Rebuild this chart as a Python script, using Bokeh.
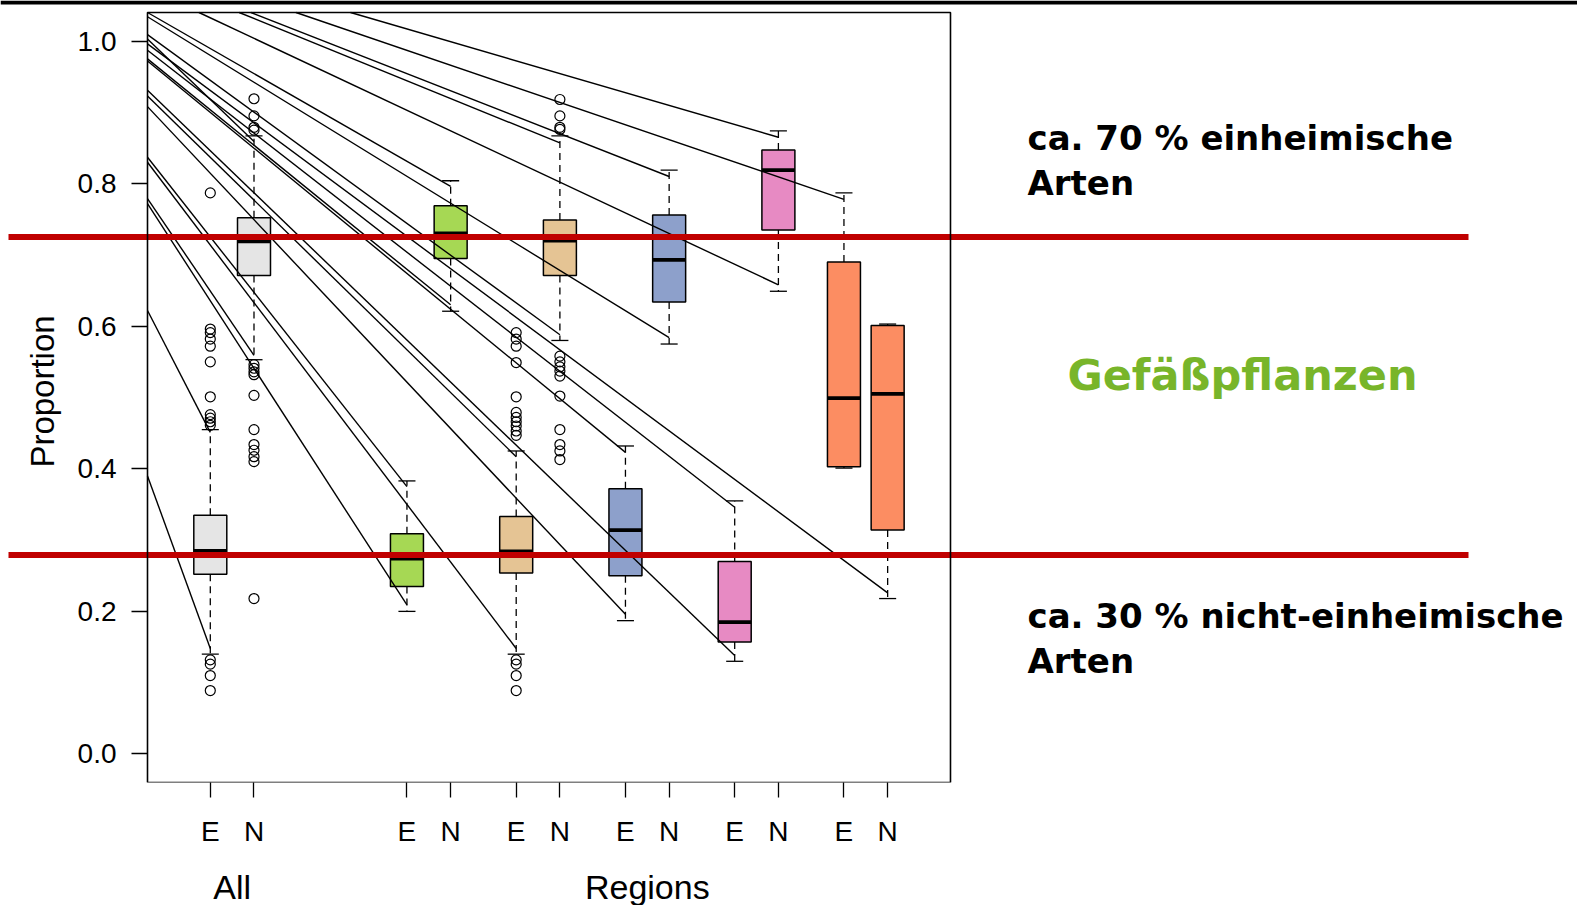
from bokeh.plotting import figure
from bokeh.models import Range1d, FixedTicker, LinearAxis, BoxAnnotation, Label, PrintfTickFormatter
from bokeh.embed import file_html
from bokeh.resources import INLINE
import numpy as np

# ---------------- data ----------------
box_labels = ["E", "N", "E", "N", "E", "N", "E", "N", "E", "N", "E", "N"]
positions = [1, 2, 5.5, 6.5, 8, 9, 10.5, 11.5, 13, 14, 15.5, 16.5]
group_labels = ["All", "Regions"]
group_pos = [1.5, 11]
box_colors = ["#E5E5E5", "#E5E5E5", "#A6D854", "#A6D854", "#E5C494", "#E5C494",
              "#8DA0CB", "#8DA0CB", "#E78AC3", "#E78AC3", "#FC8D62", "#FC8D62"]

whisk_lo = [0.140, 0.553, 0.200, 0.621, 0.140, 0.580, 0.187, 0.575, 0.130, 0.649, 0.401, 0.218]
q1 = [0.252, 0.671, 0.235, 0.695, 0.254, 0.671, 0.250, 0.634, 0.157, 0.735, 0.403, 0.314]
med = [0.285, 0.719, 0.274, 0.730, 0.284, 0.720, 0.314, 0.693, 0.185, 0.819, 0.499, 0.505]
q3 = [0.335, 0.752, 0.309, 0.769, 0.333, 0.749, 0.372, 0.756, 0.270, 0.847, 0.690, 0.601]
whisk_hi = [0.455, 0.867, 0.383, 0.804, 0.425, 0.867, 0.432, 0.819, 0.355, 0.874, 0.787, 0.603]

outliers = [
    [0.787, 0.596, 0.591, 0.582, 0.572, 0.550, 0.501, 0.476, 0.471, 0.466, 0.461, 0.132, 0.126, 0.110, 0.089],
    [0.919, 0.895, 0.879, 0.875, 0.546, 0.541, 0.536, 0.532, 0.503, 0.455, 0.434, 0.426, 0.417, 0.410, 0.218],
    [], [],
    [0.591, 0.582, 0.572, 0.549, 0.501, 0.479, 0.472, 0.466, 0.460, 0.453, 0.447, 0.132, 0.126, 0.110, 0.089],
    [0.918, 0.895, 0.879, 0.876, 0.558, 0.550, 0.543, 0.537, 0.530, 0.502, 0.455, 0.434, 0.425, 0.413],
    [], [], [], [], [], [],
]

# connector lines: start (x, y) on the plot box edge, end (box position, value)
line_start_x = [4.21, 2.96, 1.93, 1.66, 0.74, -0.437, -0.437, -0.437, -0.437, -0.437, -0.437,
                -0.437, -0.437, -0.437, -0.437, -0.437, -0.437, -0.437, -0.437, -0.437, -0.437, -0.437]
line_start_y = [1.04, 1.04, 1.04, 1.04, 1.04, 1.040, 1.034, 1.009, 1.003, 0.996, 0.987,
                0.975, 0.972, 0.931, 0.923, 0.908, 0.837, 0.830, 0.779, 0.772, 0.622, 0.390]
line_end_pos = [14, 15.5, 11.5, 9, 14, 6.5, 11.5, 9, 2, 16.5, 13,
                6.5, 10.5, 13, 8, 10.5, 5.5, 8, 2, 5.5, 1, 1]
line_end_val = [0.865, 0.778, 0.810, 0.857, 0.658, 0.796, 0.584, 0.588, 0.859, 0.226, 0.346,
                0.630, 0.423, 0.138, 0.417, 0.196, 0.375, 0.148, 0.559, 0.209, 0.451, 0.148]

ref_levels = [0.725, 0.279]
ref_color = "#C00000"

text_native = ["ca. 70 % einheimische", "Arten"]
text_nonnative = ["ca. 30 % nicht-einheimische", "Arten"]
text_title = "Gefäßpflanzen"

# ---------------- layout constants ----------------
W, H_FRAME, H_BOTTOM = 1577, 782, 123
PX_PER_X = 43.7                       # pixels per x unit
BOX_X0, BOX_X1 = -0.437, 17.938       # plot box (R-style frame)
BOX_Y0, BOX_Y1 = -0.04, 1.04
PX_PER_Y = (H_FRAME - 12) / (BOX_Y1 - BOX_Y0)
X_MIN = BOX_X0 - 147 / PX_PER_X
X_MAX = X_MIN + W / PX_PER_X
Y_MAX = BOX_Y1 + 12 / PX_PER_Y


def px_x(px):
    return X_MIN + px / PX_PER_X


def px_y(py):
    return Y_MAX - py / PX_PER_Y


FONT = "Liberation Sans"
p = figure(frame_width=W, frame_height=H_FRAME,
           x_range=Range1d(X_MIN, X_MAX), y_range=Range1d(BOX_Y0, Y_MAX),
           output_backend="svg", toolbar_location=None,
           min_border_left=0, min_border_right=0, min_border_top=0, min_border_bottom=H_BOTTOM)
p.grid.visible = False
p.outline_line_color = None
p.background_fill_color = "white"
p.border_fill_color = "white"

# y axis, fixed to the left side of the plot box
yax = p.yaxis[0]
yax.fixed_location = BOX_X0
yax.ticker = FixedTicker(ticks=[0.0, 0.2, 0.4, 0.6, 0.8, 1.0])
yax.formatter = PrintfTickFormatter(format="%.1f")
yax.major_tick_out = 16
yax.major_tick_in = 0
yax.minor_tick_line_color = None
yax.axis_line_color = None
yax.major_tick_line_color = "black"
yax.major_tick_line_width = 1.3
yax.major_label_text_font = FONT
yax.major_label_text_font_size = "28px"
yax.major_label_text_color = "black"
yax.major_label_standoff = 15
yax.axis_label = "Proportion"
yax.axis_label_text_font = FONT
yax.axis_label_text_font_size = "33px"
yax.axis_label_text_font_style = "normal"
yax.axis_label_text_color = "black"
yax.axis_label_standoff = 14

# x axis (E / N)
xax = p.xaxis[0]
xax.ticker = FixedTicker(ticks=positions)
xax.major_label_overrides = {pos: lab for pos, lab in zip(positions, box_labels)}
xax.major_tick_out = 15
xax.major_tick_in = 0
xax.minor_tick_line_color = None
xax.axis_line_color = None
xax.major_tick_line_color = "black"
xax.major_tick_line_width = 1.3
xax.major_label_text_font = FONT
xax.major_label_text_font_size = "28px"
xax.major_label_text_color = "black"
xax.major_label_standoff = 18

# group axis (All / Regions)
gax = LinearAxis(ticker=FixedTicker(ticks=group_pos),
                 major_label_overrides={pos: lab for pos, lab in zip(group_pos, group_labels)})
gax.major_tick_out = 0
gax.major_tick_in = 0
gax.minor_tick_line_color = None
gax.axis_line_color = None
gax.major_tick_line_color = None
gax.major_label_text_font = FONT
gax.major_label_text_font_size = "34px"
gax.major_label_text_color = "black"
gax.major_label_standoff = 18
p.add_layout(gax, "below")

# top black rule of the slide
p.add_layout(BoxAnnotation(bottom=px_y(4), fill_color="black", fill_alpha=1.0, line_color=None))

# ---------------- boxes ----------------
pos = np.array(positions, dtype=float)
bw = 0.755
sw = 0.39
p.vbar(x=pos, width=bw, bottom=q1, top=q3, fill_color=box_colors,
       line_color="black", line_width=1.5)
p.segment(x0=pos - bw / 2, x1=pos + bw / 2, y0=med, y1=med, line_color="black", line_width=3.8)
p.segment(x0=pos, x1=pos, y0=q3, y1=whisk_hi, line_color="black", line_width=1.3, line_dash="7 5")
p.segment(x0=pos, x1=pos, y0=q1, y1=whisk_lo, line_color="black", line_width=1.3, line_dash="7 5")
p.segment(x0=pos - sw / 2, x1=pos + sw / 2, y0=whisk_hi, y1=whisk_hi, line_color="black", line_width=1.3)
p.segment(x0=pos - sw / 2, x1=pos + sw / 2, y0=whisk_lo, y1=whisk_lo, line_color="black", line_width=1.3)

ox = [positions[i] for i, vals in enumerate(outliers) for _ in vals]
oy = [v for vals in outliers for v in vals]
p.scatter(x=ox, y=oy, marker="circle", size=10, fill_color=None, line_color="black", line_width=1.2)

# connector lines
p.segment(x0=line_start_x, y0=line_start_y, x1=line_end_pos, y1=line_end_val,
          line_color="black", line_width=1.4)

# plot box
p.add_layout(BoxAnnotation(left=BOX_X0, right=BOX_X1, bottom=BOX_Y0, top=BOX_Y1,
                           fill_color=None, fill_alpha=0, line_color="black", line_alpha=1.0,
                           line_width=1.6))

# reference lines (extend beyond the plot box)
p.segment(x0=[px_x(8)] * len(ref_levels), x1=[px_x(1468)] * len(ref_levels),
          y0=ref_levels, y1=ref_levels, line_color=ref_color, line_width=6, line_cap="butt")

# side texts
TFONT = "DejaVu Sans"
for txt, yv in zip(text_native, [px_y(137), px_y(182)]):
    p.add_layout(Label(x=px_x(1027), y=yv, text=txt, text_font=TFONT, text_font_style="bold",
                       text_font_size="34px", text_color="black", text_baseline="alphabetic"))
for txt, yv in zip(text_nonnative, [px_y(615), px_y(660)]):
    p.add_layout(Label(x=px_x(1027), y=yv, text=txt, text_font=TFONT, text_font_style="bold",
                       text_font_size="34px", text_color="black", text_baseline="alphabetic"))
p.add_layout(Label(x=px_x(1242), y=px_y(374), text=text_title, text_font=TFONT, text_font_style="bold",
                   text_font_size="43px", text_color="#78B52A", text_align="center",
                   text_baseline="alphabetic"))

open("out.html", "w").write(file_html(p, INLINE))
